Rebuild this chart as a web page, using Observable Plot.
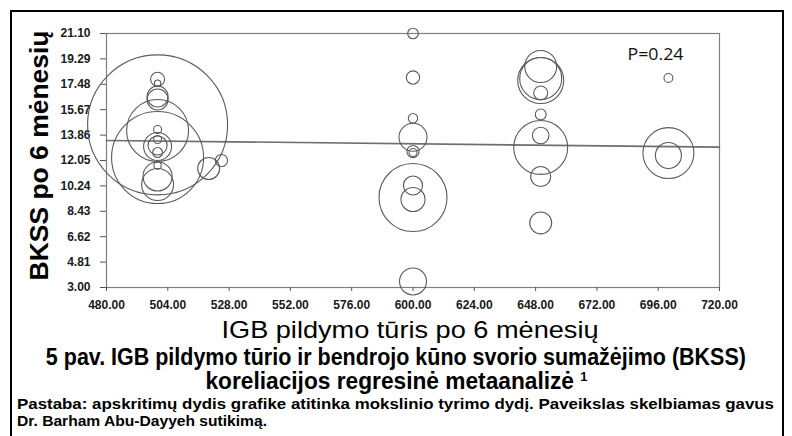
<!DOCTYPE html>
<html>
<head>
<meta charset="utf-8">
<script src="https://cdn.jsdelivr.net/npm/d3@7"></script>
<script src="https://cdn.jsdelivr.net/npm/@observablehq/plot@0.6"></script>
<style>
  body { margin: 0; background: #fff; width: 792px; height: 436px; overflow: hidden; position: relative; }
  #border { position: absolute; left: 10px; top: 10px; width: 774px; height: 440px; border: 2px solid #000; border-bottom: none; box-sizing: border-box; }
  #chart { position: absolute; left: 0; top: 0; }
  .cap { position: absolute; left: 0; width: 792px; text-align: center; font-family: "Liberation Sans", Arial, sans-serif; font-weight: bold; color: #000; white-space: nowrap; line-height: 22px; }
  .cap span.fit { display: inline-block; transform-origin: center; }
  .sup { position: relative; top: -8px; font-size: 13px; }
  .note { position: absolute; left: 17px; font-family: "Liberation Sans", Arial, sans-serif; font-weight: bold; font-size: 15.5px; color: #000; white-space: nowrap; line-height: 16px; }
  .note span { display: inline-block; transform-origin: left center; }
</style>
</head>
<body>
<div id="border"></div>
<div id="chart"></div>
<div class="cap" style="top:346px;font-size:23px;"><span class="fit" data-w="700">5 pav. IGB pildymo tūrio ir bendrojo kūno svorio sumažėjimo (BKSS)</span></div>
<div class="cap" style="top:370px;font-size:23px;"><span class="fit" data-w="382">koreliacijos regresinė metaanalizė <span class="sup">1</span></span></div>
<div class="note" style="top:396px;"><span data-w="757">Pastaba: apskritimų dydis grafike atitinka mokslinio tyrimo dydį. Paveikslas skelbiamas gavus</span></div>
<div class="note" style="top:413px;"><span data-w="250">Dr. Barham Abu-Dayyeh sutikimą.</span></div>
<script>
// IGB fill volume (x), BKSS at 6 months (y), relative study size (circle area)
const fillVolume = [
  500, 500, 500, 500, 500, 500, 500, 500, 500, 500, 500, 500, 500, 500, 500,
  520, 525,
  600, 600, 600, 600, 600, 600, 600, 600, 600, 600,
  650, 650, 650, 650, 650, 650, 650, 650, 650,
  700, 700, 700
];
const bkss = [
  14.59, 12.26, 14.19, 17.84, 17.56, 16.61, 16.40, 14.26, 13.05, 13.12, 13.55, 12.62, 11.69, 10.91, 10.34,
  11.48, 12.05,
  21.10, 17.96, 15.06, 13.71, 12.69, 12.62, 9.41, 10.27, 9.27, 3.43,
  18.75, 17.89, 17.75, 16.86, 15.33, 13.83, 12.98, 10.91, 7.60,
  12.58, 12.41, 17.93
];
const studySize = [
  2000, 864, 392, 20, 4, 45, 45, 6.5, 80, 37, 6.5, 10, 5.6, 86, 104,
  49, 15,
  11.5, 18, 9, 80, 15, 6.5, 472, 37, 59, 74,
  104, 180, 216, 20, 12, 28, 297, 41, 49,
  265, 69, 8
];
const regVolume = [480, 720];
const regBkss = [13.48, 13.00];
const xTicks = [480, 504, 528, 552, 576, 600, 624, 648, 672, 696, 720];
const yTicks = [3.00, 4.81, 6.62, 8.43, 10.24, 12.05, 13.86, 15.67, 17.48, 19.29, 21.10];
const pLabel = ["P=0.24"];
const yTitle = ["BKSS po 6 mėnesių"];
const xTitle = ["IGB pildymo tūris po 6 mėnesių"];

const studies = fillVolume.map((v, i) => ({x: v, y: bkss[i], n: studySize[i]}));
const reg = regVolume.map((v, i) => ({x: v, y: regBkss[i]}));
const fmt = d => d.toFixed(2);
const sans = '"Liberation Sans", Arial, sans-serif';

const chart = Plot.plot({
  width: 792,
  height: 345,
  marginLeft: 106,
  marginRight: 73,
  marginTop: 33,
  marginBottom: 58,
  style: {fontFamily: sans, fontSize: "12px", fontWeight: "bold", color: "#1a1a1a", background: "transparent", overflow: "visible"},
  x: {domain: [480, 720]},
  y: {domain: [3.00, 21.10]},
  r: {type: "sqrt", domain: [0, 2000], range: [0, 70]},
  marks: [
    Plot.frame({stroke: "#808080", strokeWidth: 1.2}),
    Plot.axisX({ticks: xTicks, tickFormat: fmt, tickSize: 4, tickPadding: 9, label: null, stroke: "#555"}),
    Plot.axisY({ticks: yTicks, tickFormat: fmt, tickSize: 6, tickPadding: 10, label: null, stroke: "#555"}),
    Plot.line(reg, {x: "x", y: "y", stroke: "#6e6e6e", strokeWidth: 1.6}),
    Plot.dot(studies, {x: "x", y: "y", r: "n", stroke: "#5a5a5a", fill: "none", strokeWidth: 1.1}),
    Plot.text(pLabel, {frameAnchor: "top-right", dx: -36, dy: 21, textAnchor: "end", lineAnchor: "middle", fontFamily: '"Open Sans", "Liberation Sans", sans-serif', fontWeight: "normal", fontSize: 17, fill: "#111"}),
    Plot.text(yTitle, {frameAnchor: "left", dx: -67, dy: -5, rotate: -90, textAnchor: "middle", lineAnchor: "middle", fontFamily: sans, fontWeight: "bold", fontSize: 25, fill: "#000"}),
    Plot.text(xTitle, {frameAnchor: "bottom", dx: -3, dy: 43, textAnchor: "middle", lineAnchor: "middle", fontFamily: sans, fontWeight: "normal", fontSize: 24, fill: "#000"})
  ]
});
document.getElementById("chart").appendChild(chart);

// fit text widths to the reference's condensed typeface
const fits = new Map([[pLabel[0], 56], [yTitle[0], 250], [xTitle[0], 377]]);
d3.select(chart).selectAll("text").each(function() {
  const t = this.textContent;
  if (fits.has(t)) {
    this.setAttribute("textLength", fits.get(t));
    this.setAttribute("lengthAdjust", "spacingAndGlyphs");
  }
});
document.querySelectorAll("span[data-w]").forEach(s => {
  const w = s.getBoundingClientRect().width;
  s.style.transform = `scaleX(${(+s.dataset.w / w).toFixed(4)})`;
});
</script>
</body>
</html>
